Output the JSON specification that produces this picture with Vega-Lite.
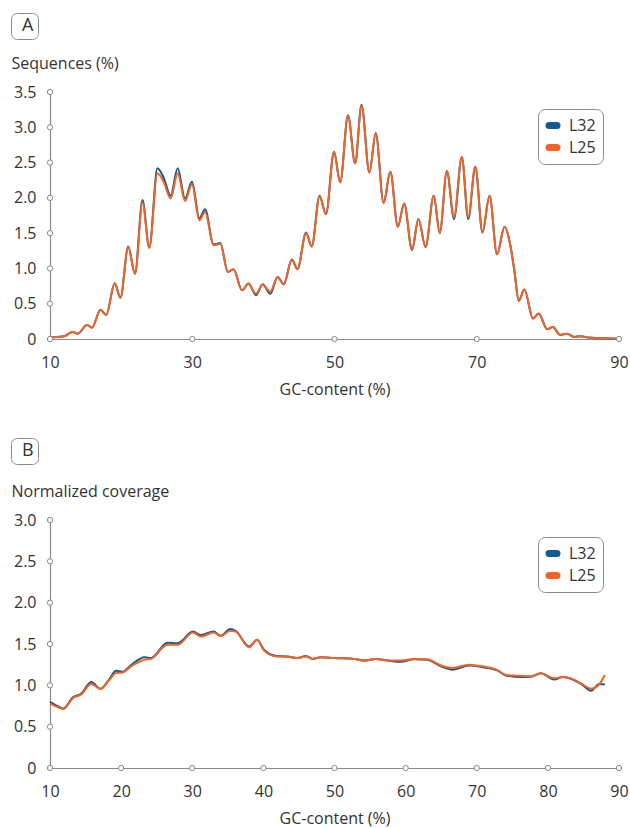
{
  "$schema": "https://vega.github.io/schema/vega-lite/v6.json",
  "padding": {"left": 10, "top": 12, "right": 3, "bottom": 2},
  "spacing": 40,
  "background": "white",
  "config": {
    "view": {"stroke": null},
    "font": "Open Sans",
    "axis": {
      "domainColor": "#8a8a8a", "domainWidth": 1.2, "grid": false, "ticks": false, "labelOverlap": false, "labelBound": false,
      "labelFont": "Open Sans", "labelFontSize": 16, "labelColor": "#333333",
      "titleFont": "Open Sans", "titleFontSize": 16, "titleFontWeight": "normal", "titleColor": "#333333"
    },
    "legend": {"labelFont": "Open Sans", "titleFont": "Open Sans"}
  },
  "datasets": {
    "seqA": [
      {"gc":10,"L32":0.02,"L25":0.02},{"gc":11,"L32":0.03,"L25":0.03},{"gc":12,"L32":0.04,"L25":0.04},
      {"gc":13.2,"L32":0.10,"L25":0.10},{"gc":13.9,"L32":0.075,"L25":0.075},{"gc":15.2,"L32":0.20,"L25":0.20},
      {"gc":15.9,"L32":0.16,"L25":0.16},{"gc":17.1,"L32":0.415,"L25":0.41},{"gc":17.9,"L32":0.34,"L25":0.34},
      {"gc":19.1,"L32":0.79,"L25":0.785},{"gc":19.9,"L32":0.585,"L25":0.585},{"gc":21.0,"L32":1.31,"L25":1.30},
      {"gc":21.95,"L32":0.925,"L25":0.925},{"gc":23.0,"L32":1.97,"L25":1.93},{"gc":23.96,"L32":1.295,"L25":1.29},
      {"gc":25.1,"L32":2.42,"L25":2.35},{"gc":26.0,"L32":2.28,"L25":2.22},{"gc":26.96,"L32":2.03,"L25":1.99},
      {"gc":27.95,"L32":2.42,"L25":2.35},{"gc":28.98,"L32":1.99,"L25":1.955},{"gc":29.96,"L32":2.23,"L25":2.19},
      {"gc":31.0,"L32":1.71,"L25":1.68},{"gc":31.8,"L32":1.84,"L25":1.80},{"gc":33.0,"L32":1.34,"L25":1.33},
      {"gc":33.95,"L32":1.36,"L25":1.35},{"gc":35.0,"L32":0.95,"L25":0.95},{"gc":35.8,"L32":0.99,"L25":0.99},
      {"gc":37.0,"L32":0.69,"L25":0.69},{"gc":37.9,"L32":0.785,"L25":0.785},{"gc":38.96,"L32":0.62,"L25":0.64},
      {"gc":39.9,"L32":0.775,"L25":0.77},{"gc":40.97,"L32":0.64,"L25":0.67},{"gc":42.0,"L32":0.88,"L25":0.88},
      {"gc":42.86,"L32":0.775,"L25":0.775},{"gc":44.0,"L32":1.125,"L25":1.12},{"gc":44.8,"L32":0.99,"L25":0.99},
      {"gc":46.0,"L32":1.51,"L25":1.50},{"gc":46.8,"L32":1.31,"L25":1.31},{"gc":47.9,"L32":2.03,"L25":2.02},
      {"gc":48.8,"L32":1.77,"L25":1.77},{"gc":49.93,"L32":2.655,"L25":2.645},{"gc":50.8,"L32":2.22,"L25":2.22},
      {"gc":51.9,"L32":3.17,"L25":3.16},{"gc":52.9,"L32":2.49,"L25":2.49},{"gc":53.8,"L32":3.32,"L25":3.30},
      {"gc":54.9,"L32":2.36,"L25":2.36},{"gc":55.8,"L32":2.92,"L25":2.91},{"gc":56.9,"L32":1.93,"L25":1.93},
      {"gc":57.85,"L32":2.37,"L25":2.37},{"gc":58.9,"L32":1.59,"L25":1.59},{"gc":59.8,"L32":1.92,"L25":1.92},
      {"gc":60.9,"L32":1.26,"L25":1.27},{"gc":61.8,"L32":1.70,"L25":1.70},{"gc":62.8,"L32":1.30,"L25":1.31},
      {"gc":63.95,"L32":2.03,"L25":2.03},{"gc":64.8,"L32":1.50,"L25":1.51},{"gc":65.8,"L32":2.38,"L25":2.38},
      {"gc":66.8,"L32":1.70,"L25":1.73},{"gc":67.9,"L32":2.58,"L25":2.58},{"gc":68.8,"L32":1.70,"L25":1.73},
      {"gc":69.8,"L32":2.44,"L25":2.44},{"gc":70.8,"L32":1.51,"L25":1.52},{"gc":71.8,"L32":2.03,"L25":2.03},
      {"gc":72.85,"L32":1.20,"L25":1.20},{"gc":73.9,"L32":1.59,"L25":1.59},{"gc":74.7,"L32":1.34,"L25":1.34},
      {"gc":75.3,"L32":0.96,"L25":0.96},{"gc":75.9,"L32":0.54,"L25":0.54},{"gc":76.7,"L32":0.70,"L25":0.70},
      {"gc":77.9,"L32":0.29,"L25":0.29},{"gc":78.7,"L32":0.36,"L25":0.36},{"gc":79.9,"L32":0.14,"L25":0.14},
      {"gc":80.7,"L32":0.17,"L25":0.17},{"gc":81.7,"L32":0.06,"L25":0.06},{"gc":82.7,"L32":0.075,"L25":0.075},
      {"gc":83.7,"L32":0.03,"L25":0.03},{"gc":84.7,"L32":0.04,"L25":0.04},{"gc":85.6,"L32":0.02,"L25":0.02},
      {"gc":87.5,"L32":0.01,"L25":0.01},{"gc":90,"L32":0.005,"L25":0.005}
    ],
    "covB": [
      {"gc":10.0,"L32":0.80,"L25":0.78},{"gc":11.0,"L32":0.75,"L25":0.74},{"gc":11.9,"L32":0.72,"L25":0.715},
      {"gc":13.2,"L32":0.855,"L25":0.845},{"gc":14.4,"L32":0.90,"L25":0.89},{"gc":15.8,"L32":1.04,"L25":1.015},
      {"gc":17.1,"L32":0.96,"L25":0.955},{"gc":18.3,"L32":1.07,"L25":1.06},{"gc":19.3,"L32":1.175,"L25":1.15},
      {"gc":20.2,"L32":1.165,"L25":1.155},{"gc":21.4,"L32":1.245,"L25":1.23},{"gc":23.3,"L32":1.34,"L25":1.31},
      {"gc":24.2,"L32":1.33,"L25":1.32},{"gc":26.5,"L32":1.515,"L25":1.49},{"gc":27.95,"L32":1.51,"L25":1.49},
      {"gc":30.1,"L32":1.65,"L25":1.64},{"gc":31.2,"L32":1.61,"L25":1.59},{"gc":33.0,"L32":1.65,"L25":1.64},
      {"gc":34.0,"L32":1.60,"L25":1.595},{"gc":35.35,"L32":1.68,"L25":1.66},{"gc":36.1,"L32":1.66,"L25":1.65},
      {"gc":38.0,"L32":1.47,"L25":1.46},{"gc":39.1,"L32":1.55,"L25":1.55},{"gc":40.1,"L32":1.43,"L25":1.42},
      {"gc":41.8,"L32":1.355,"L25":1.35},{"gc":43.4,"L32":1.35,"L25":1.345},{"gc":44.8,"L32":1.33,"L25":1.33},
      {"gc":46.0,"L32":1.355,"L25":1.35},{"gc":46.9,"L32":1.32,"L25":1.32},{"gc":48.1,"L32":1.34,"L25":1.34},
      {"gc":50.0,"L32":1.33,"L25":1.33},{"gc":52.8,"L32":1.32,"L25":1.32},{"gc":54.2,"L32":1.30,"L25":1.30},
      {"gc":55.8,"L32":1.32,"L25":1.32},{"gc":57.5,"L32":1.30,"L25":1.30},{"gc":59.3,"L32":1.285,"L25":1.30},
      {"gc":61.2,"L32":1.315,"L25":1.32},{"gc":63.0,"L32":1.31,"L25":1.315},{"gc":65.0,"L32":1.23,"L25":1.24},
      {"gc":66.6,"L32":1.19,"L25":1.21},{"gc":68.9,"L32":1.24,"L25":1.25},{"gc":70.8,"L32":1.22,"L25":1.23},
      {"gc":72.9,"L32":1.18,"L25":1.185},{"gc":74.1,"L32":1.12,"L25":1.125},{"gc":76.2,"L32":1.10,"L25":1.115},
      {"gc":77.6,"L32":1.105,"L25":1.11},{"gc":79.0,"L32":1.145,"L25":1.145},{"gc":80.9,"L32":1.07,"L25":1.085},
      {"gc":82.1,"L32":1.10,"L25":1.10},{"gc":83.0,"L32":1.085,"L25":1.09},{"gc":84.7,"L32":1.015,"L25":1.02},
      {"gc":86.1,"L32":0.935,"L25":0.96},{"gc":87.2,"L32":1.015,"L25":1.01},{"gc":88.0,"L32":1.01,"L25":1.125}
    ],
    "ticksA": [
      {"gc":10,"v":0},{"gc":30,"v":0},{"gc":50,"v":0},{"gc":70,"v":0},{"gc":90,"v":0},
      {"gc":10,"v":0.5},{"gc":10,"v":1.0},{"gc":10,"v":1.5},{"gc":10,"v":2.0},{"gc":10,"v":2.5},{"gc":10,"v":3.0},{"gc":10,"v":3.5}
    ],
    "ticksB": [
      {"gc":10,"v":0},{"gc":20,"v":0},{"gc":30,"v":0},{"gc":40,"v":0},{"gc":50,"v":0},{"gc":60,"v":0},{"gc":70,"v":0},{"gc":80,"v":0},{"gc":90,"v":0},
      {"gc":10,"v":0.5},{"gc":10,"v":1.0},{"gc":10,"v":1.5},{"gc":10,"v":2.0},{"gc":10,"v":2.5},{"gc":10,"v":3.0}
    ],
    "labA": [{"p":"A"}],
    "labB": [{"p":"B"}]
  },
  "resolve": {
    "scale": {"color": "independent", "shape": "independent"},
    "legend": {"color": "independent", "shape": "independent"}
  },
  "vconcat": [
    {
      "width": 569, "height": 247,
      "encoding": {
        "x": {"type": "quantitative", "title": "GC-content (%)",
              "scale": {"domain": [10, 90], "nice": false, "zero": false},
              "axis": {"values": [10, 30, 50, 70, 90], "labelFlush": false, "labelOverlap": false, "labelPadding": 15, "titlePadding": 11}},
        "y": {"type": "quantitative", "title": "Sequences (%)",
              "scale": {"domain": [0, 3.5], "nice": false},
              "axis": {"values": [0, 0.5, 1, 1.5, 2, 2.5, 3, 3.5], "labelPadding": 14, "labelOverlap": false, "labelBound": false,
                       "labelExpr": "datum.value == 0 ? '0' : format(datum.value, '.1f')",
                       "titleAngle": 0, "titleX": -39, "titleY": -24, "titleAlign": "left", "titleBaseline": "alphabetic"}},
        "color": {"type": "nominal",
                  "scale": {"domain": ["L32", "L25"], "range": ["#135a8e", "#f26324"]},
                  "legend": {"orient": "none", "legendX": 488, "legendY": 17, "title": null,
                             "strokeColor": "#8a8a8a", "cornerRadius": 7, "fillColor": "white", "padding": 7,
                             "symbolType": "stroke", "symbolSize": 64, "symbolStrokeWidth": 7, "labelOffset": 8,
                             "labelFontSize": 16, "labelColor": "#333333", "rowPadding": 3, "clipHeight": 19,
                             "encode": {"symbols": {"update": {"strokeCap": {"value": "round"}}}}}}
      },
      "layer": [
        {
          "data": {"name": "seqA"},
          "mark": {"type": "line", "interpolate": "monotone", "strokeWidth": 2},
          "encoding": {"x": {"field": "gc"}, "y": {"field": "L32"}, "color": {"datum": "L32"}}
        },
        {
          "data": {"name": "seqA"},
          "mark": {"type": "line", "interpolate": "monotone", "strokeWidth": 2},
          "encoding": {"x": {"field": "gc"}, "y": {"field": "L25"}, "color": {"datum": "L25"}}
        },
        {
          "data": {"name": "ticksA"},
          "mark": {"type": "point", "shape": "circle", "filled": true, "fill": "white", "stroke": "#8a8a8a", "strokeWidth": 1, "size": 28, "opacity": 1},
          "encoding": {"x": {"field": "gc"}, "y": {"field": "v"}, "color": null}
        },
        {
          "data": {"name": "labA"},
          "mark": {"type": "point", "opacity": 0, "size": 1},
          "encoding": {
            "x": {"datum": 10}, "y": {"datum": 0}, "color": null,
            "shape": {"field": "p", "type": "nominal",
                      "legend": {"orient": "none", "legendX": -39, "legendY": -79, "title": null,
                                 "strokeColor": "#8a8a8a", "cornerRadius": 6, "fillColor": "white", "padding": 4,
                                 "symbolSize": 1, "symbolOpacity": 0, "symbolStrokeWidth": 0, "labelOffset": -11,
                                 "labelFontSize": 18, "labelColor": "#333333"}}
          }
        }
      ]
    },
    {
      "width": 569, "height": 248,
      "encoding": {
        "x": {"type": "quantitative", "title": "GC-content (%)",
              "scale": {"domain": [10, 90], "nice": false, "zero": false},
              "axis": {"values": [10, 20, 30, 40, 50, 60, 70, 80, 90], "labelFlush": false, "labelOverlap": false, "labelPadding": 15, "titlePadding": 11}},
        "y": {"type": "quantitative", "title": "Normalized coverage",
              "scale": {"domain": [0, 3.0], "nice": false},
              "axis": {"values": [0, 0.5, 1, 1.5, 2, 2.5, 3], "labelPadding": 14, "labelOverlap": false, "labelBound": false,
                       "labelExpr": "datum.value == 0 ? '0' : format(datum.value, '.1f')",
                       "titleAngle": 0, "titleX": -39, "titleY": -24, "titleAlign": "left", "titleBaseline": "alphabetic"}},
        "color": {"type": "nominal",
                  "scale": {"domain": ["L32", "L25"], "range": ["#135a8e", "#f26324"]},
                  "legend": {"orient": "none", "legendX": 488, "legendY": 17, "title": null,
                             "strokeColor": "#8a8a8a", "cornerRadius": 7, "fillColor": "white", "padding": 7,
                             "symbolType": "stroke", "symbolSize": 64, "symbolStrokeWidth": 7, "labelOffset": 8,
                             "labelFontSize": 16, "labelColor": "#333333", "rowPadding": 3, "clipHeight": 19,
                             "encode": {"symbols": {"update": {"strokeCap": {"value": "round"}}}}}}
      },
      "layer": [
        {
          "data": {"name": "covB"},
          "mark": {"type": "line", "interpolate": "monotone", "strokeWidth": 2},
          "encoding": {"x": {"field": "gc"}, "y": {"field": "L32"}, "color": {"datum": "L32"}}
        },
        {
          "data": {"name": "covB"},
          "mark": {"type": "line", "interpolate": "monotone", "strokeWidth": 2},
          "encoding": {"x": {"field": "gc"}, "y": {"field": "L25"}, "color": {"datum": "L25"}}
        },
        {
          "data": {"name": "ticksB"},
          "mark": {"type": "point", "shape": "circle", "filled": true, "fill": "white", "stroke": "#8a8a8a", "strokeWidth": 1, "size": 28, "opacity": 1},
          "encoding": {"x": {"field": "gc"}, "y": {"field": "v"}, "color": null}
        },
        {
          "data": {"name": "labB"},
          "mark": {"type": "point", "opacity": 0, "size": 1},
          "encoding": {
            "x": {"datum": 10}, "y": {"datum": 0}, "color": null,
            "shape": {"field": "p", "type": "nominal",
                      "legend": {"orient": "none", "legendX": -39, "legendY": -82, "title": null,
                                 "strokeColor": "#8a8a8a", "cornerRadius": 6, "fillColor": "white", "padding": 4,
                                 "symbolSize": 1, "symbolOpacity": 0, "symbolStrokeWidth": 0, "labelOffset": -11,
                                 "labelFontSize": 18, "labelColor": "#333333"}}
          }
        }
      ]
    }
  ]
}
